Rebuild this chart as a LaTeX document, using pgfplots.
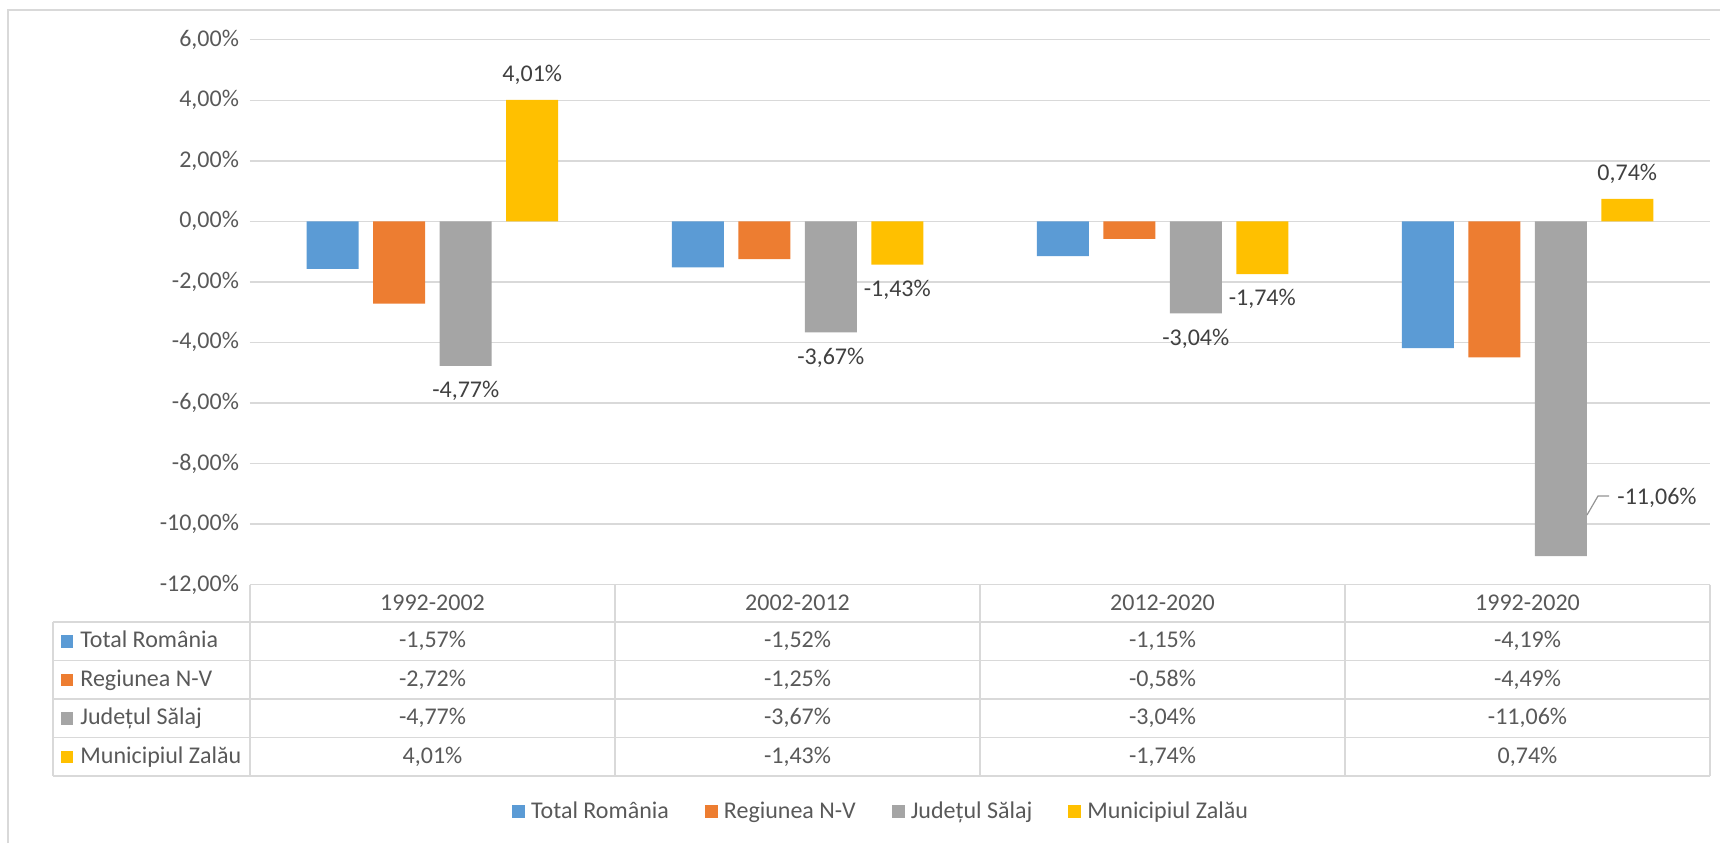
\documentclass[border=0pt]{standalone}
\usepackage{fontspec}
\setmainfont{Carlito}
\usepackage{pgfplots}
\pgfplotsset{compat=1.18}

\definecolor{cBlue}{HTML}{5B9BD5}
\definecolor{cOrange}{HTML}{ED7D31}
\definecolor{cGray}{HTML}{A5A5A5}
\definecolor{cYellow}{HTML}{FFC000}
\definecolor{gridc}{HTML}{D9D9D9}
\definecolor{txt}{HTML}{595959}
\definecolor{lbl}{HTML}{404040}

\begin{document}
\begin{tikzpicture}[font=\fontsize{12}{14.4}\selectfont]
\begin{axis}[
    at={(0,0)}, anchor=south west,
    scale only axis, width=730pt, height=272.5pt,
    ybar=7.25pt, bar width=26pt,
    xmin=-0.5, xmax=3.5, ymin=-12, ymax=6,
    enlargelimits=false,
    xtick=\empty,
    ytick={-12,-10,...,6},
    yticklabels={{-12,00\%},{-10,00\%},{-8,00\%},{-6,00\%},{-4,00\%},{-2,00\%},{0,00\%},{2,00\%},{4,00\%},{6,00\%}},
    yticklabel style={text=txt, xshift=-2pt, text height=8pt, text depth=1.5pt},
    axis line style={draw=none},
    major tick length=0pt,
    ymajorgrids, grid style={gridc, line width=0.75pt},
    visualization depends on={rawy \as \yraw},
    every node near coord/.append style={text=lbl, inner ysep=7.6pt, inner xsep=1pt, text height=8pt, text depth=1.5pt},
    legend columns=4,
    legend image code/.code={\fill[#1] (0pt,-3.25pt) rectangle (6.5pt,3.25pt);},
    legend style={draw=none, fill=none, inner sep=0pt, outer sep=0pt,
        at={(axis description cs:0.1795,-0.417)}, anchor=west,
        nodes={text=txt, inner xsep=0pt, inner ysep=1pt},
        /tikz/every odd column/.append style={column sep=3pt},
        /tikz/every even column/.append style={column sep=18pt}},
]
\addplot[fill=cBlue, draw=none] coordinates {(0,-1.57) (1,-1.52) (2,-1.15) (3,-4.19)};
\addplot[fill=cOrange, draw=none] coordinates {(0,-2.72) (1,-1.25) (2,-0.58) (3,-4.49)};
% the -11,06% label is moved aside with a leader line, see below
\addplot[fill=cGray, draw=none,
    nodes near coords={\ifdim\yraw pt<-10pt\else\pgfmathprintnumber[fixed,fixed zerofill,precision=2,use comma,assume math mode=true]{\pgfplotspointmeta}\%\fi}]
    coordinates {(0,-4.77) (1,-3.67) (2,-3.04) (3,-11.06)};
\addplot[fill=cYellow, draw=none,
    nodes near coords={\pgfmathprintnumber[fixed,fixed zerofill,precision=2,use comma,assume math mode=true]{\pgfplotspointmeta}\%}]
    coordinates {(0,4.01) (1,-1.43) (2,-1.74) (3,0.74)};
\legend{Total România, Regiunea N-V, Județul Sălaj, Municipiul Zalău}
\end{axis}

% pixel frame of the reference: x right, y down, (250,584.7) = axis corner
\begin{scope}[x=0.5pt, y=-0.5pt, shift={(-250,-584.7)},
    cell/.style={text=txt, inner sep=0pt, text height=8pt, text depth=1.5pt}]
  % leader line and moved label
  \draw[cGray!90!black, line width=0.6pt] (1587,515) -- (1598,496) -- (1609,496);
  \node[cell, text=lbl] at (1657,497.7) {-11,06\%};

  % data table
  \begin{scope}[gridc, line width=0.85pt]
    \foreach \yy in {622,660.5,699,737.5,776} \draw (53,\yy) -- (1710,\yy);
    \foreach \xx in {250,615,980,1345,1710} \draw (\xx,584.7) -- (\xx,776);
    \draw (53,622) -- (53,776);
  \end{scope}
  \foreach \lab [count=\i from 0] in {1992-2002,2002-2012,2012-2020,1992-2020}
    \node[cell] at (432.5+365*\i,603.5) {\lab};

  \foreach \c/\name/\yy in {cBlue/Total România/641.25, cOrange/Regiunea N-V/679.75,
                            cGray/Județul Sălaj/718.25, cYellow/Municipiul Zalău/756.75} {
    \fill[\c] (61,\yy-6.25) rectangle (73.5,\yy+6.25);
    \node[cell, anchor=west] at (80,\yy) {\name};
  }
  \node[cell] at (432.5,641.25) {-1,57\%};
  \node[cell] at (797.5,641.25) {-1,52\%};
  \node[cell] at (1162.5,641.25) {-1,15\%};
  \node[cell] at (1527.5,641.25) {-4,19\%};
  \node[cell] at (432.5,679.75) {-2,72\%};
  \node[cell] at (797.5,679.75) {-1,25\%};
  \node[cell] at (1162.5,679.75) {-0,58\%};
  \node[cell] at (1527.5,679.75) {-4,49\%};
  \node[cell] at (432.5,718.25) {-4,77\%};
  \node[cell] at (797.5,718.25) {-3,67\%};
  \node[cell] at (1162.5,718.25) {-3,04\%};
  \node[cell] at (1527.5,718.25) {-11,06\%};
  \node[cell] at (432.5,756.75) {4,01\%};
  \node[cell] at (797.5,756.75) {-1,43\%};
  \node[cell] at (1162.5,756.75) {-1,74\%};
  \node[cell] at (1527.5,756.75) {0,74\%};

  % chart border
  \draw[gridc, line width=0.75pt] (8,843) -- (8,10) -- (1720,10);
  \pgfresetboundingbox
  \path (0,0) rectangle (1720,843);
\end{scope}
\end{tikzpicture}
\end{document}
